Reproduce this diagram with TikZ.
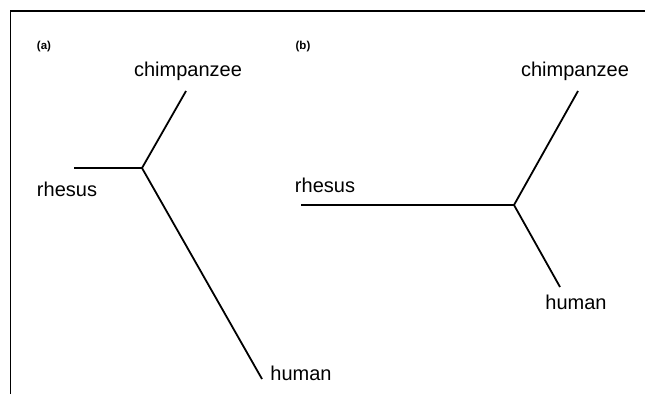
\documentclass[tikz,border=0pt]{standalone}
\usepackage{fontspec}
\setmainfont{Liberation Sans}
\begin{document}
\begin{tikzpicture}[x=1pt,y=-1pt]
  \tikzstyle{taxon}=[inner sep=0pt,anchor=base,font=\fontsize{20}{24}\selectfont]
  \tikzstyle{panel}=[inner sep=0pt,anchor=base,font=\fontsize{11.5}{14}\selectfont\bfseries]
  \tikzstyle{branch}=[draw,line width=1.8pt]
  \useasboundingbox (0,0) rectangle (645,394);
  % frame
  \draw[line width=1.2pt] (10.5,394) -- (10.5,11) -- (645,11);
  % tree (a)
  \node[panel] (alabel) at (44,49) {(a)};
  \coordinate (ajoin)  at (142,168);
  \coordinate (arhes)  at (74,168);
  \coordinate (achimp) at (186,91);
  \coordinate (ahuman) at (262,379);
  \draw[branch] (arhes) -- (ajoin);
  \draw[branch] (ajoin) -- (achimp);
  \draw[branch] (ajoin) -- (ahuman);
  \node[taxon] (achimplabel) at (188,76)  {chimpanzee};
  \node[taxon] (arheslabel)  at (67,196)  {rhesus};
  \node[taxon] (ahumanlabel) at (301,380) {human};
  % tree (b)
  \node[panel] (blabel) at (303,49) {(b)};
  \coordinate (bjoin)  at (514,205);
  \coordinate (brhes)  at (301,205);
  \coordinate (bchimp) at (578,91);
  \coordinate (bhuman) at (560,287);
  \draw[branch] (brhes) -- (bjoin);
  \draw[branch] (bjoin) -- (bchimp);
  \draw[branch] (bjoin) -- (bhuman);
  \node[taxon] (bchimplabel) at (575,76)  {chimpanzee};
  \node[taxon] (brheslabel)  at (325,192) {rhesus};
  \node[taxon] (bhumanlabel) at (576,309) {human};
\end{tikzpicture}
\end{document}
